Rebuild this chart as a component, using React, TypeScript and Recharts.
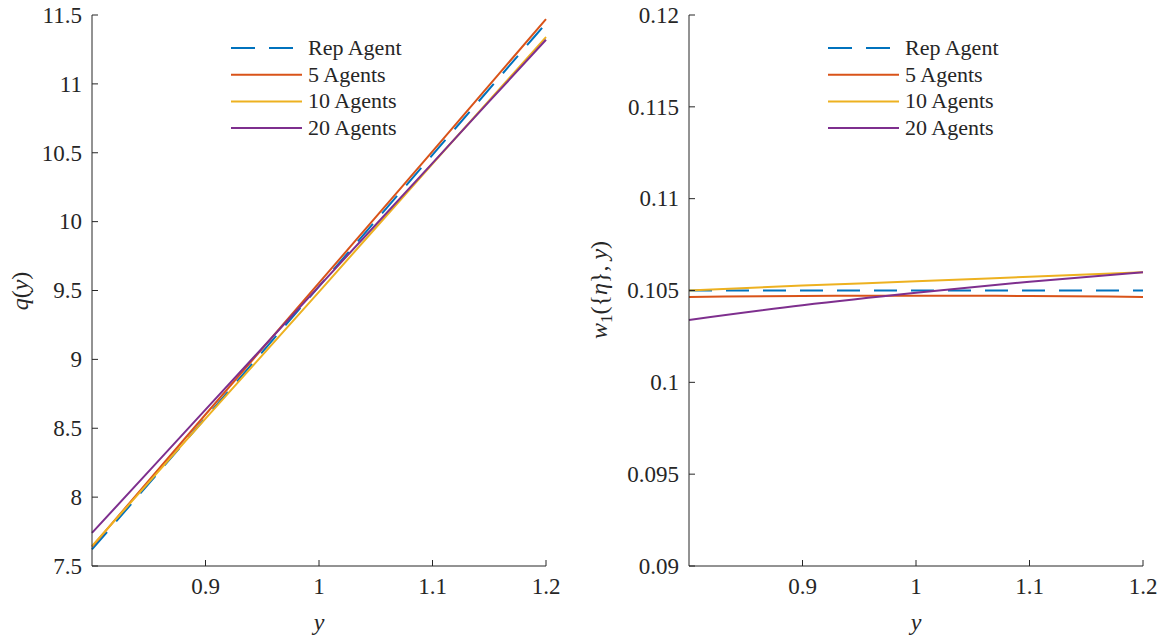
import { Line, LineChart, XAxis, YAxis } from "recharts";

// x values (y in the plots)
const xValues = [0.8, 0.9, 1.0, 1.1, 1.2];

const seriesNames = ["Rep Agent", "5 Agents", "10 Agents", "20 Agents"];
const seriesColors = ["#0072BD", "#D95319", "#EDB120", "#7E2F8E"];

// left panel: q(y)
const qRep = [7.62, 8.575, 9.53, 10.485, 11.44];
const q5 = [7.64, 8.6, 9.555, 10.51, 11.47];
const q10 = [7.645, 8.57, 9.49, 10.42, 11.34];
const q20 = [7.74, 8.635, 9.53, 10.425, 11.32];

// right panel: w_1({eta}, y)
const wRep = [0.105, 0.105, 0.105, 0.105, 0.105];
const w5 = [0.10465, 0.1047, 0.10472, 0.1047, 0.10465];
const w10 = [0.105, 0.10527, 0.1055, 0.10575, 0.106];
const w20 = [0.1034, 0.1042, 0.10488, 0.10548, 0.106];

const xTicks = [0.9, 1, 1.1, 1.2];
const qTicks = [7.5, 8, 8.5, 9, 9.5, 10, 10.5, 11, 11.5];
const wTicks = [0.09, 0.095, 0.1, 0.105, 0.11, 0.115, 0.12];

const FONT = "'Liberation Serif', 'DejaVu Serif', serif";
const INK = "#262626";

const buildRows = (cols: number[][]) =>
  xValues.map((x, i) => ({ x, s0: cols[0][i], s1: cols[1][i], s2: cols[2][i], s3: cols[3][i] }));

const qRows = buildRows([qRep, q5, q10, q20]);
const wRows = buildRows([wRep, w5, w10, w20]);

const textCss = { fontFamily: FONT };

// force the serif face on every svg text in the page
const fontRule = `svg text, svg tspan { font-family: ${FONT} !important; }`;

const BottomTick = (props: any) => (
  <text x={props.x} y={props.y} dy="0.71em" textAnchor="middle" fontSize={23} fill={INK}>
    {String(props.payload.value)}
  </text>
);

const LeftTick = (props: any) => (
  <text x={props.x} y={props.y} dy="0.34em" textAnchor="end" fontSize={23} fill={INK}>
    {String(props.payload.value)}
  </text>
);

// legend drawn as an overlay so it doesn't eat chart space
const LegendBox = ({ left }: { left: number }) => (
  <svg width={220} height={115} style={{ position: "absolute", left, top: 30 }}>
    {seriesNames.map((name, i) => {
      const cy = 18 + i * 26.7;
      return (
        <g key={name}>
          <line
            x1={11}
            x2={82}
            y1={cy}
            y2={cy}
            stroke={seriesColors[i]}
            strokeWidth={2}
            strokeDasharray={i === 0 ? "24 14" : undefined}
          />
          <text x={88} y={cy + 7} fontSize={22} fill={INK} style={textCss}>
            {name}
          </text>
        </g>
      );
    })}
  </svg>
);

type PanelProps = {
  rows: typeof qRows;
  domain: [number, number];
  yTicks: number[];
  width: number;
  axisWidth: number;
  marginRight: number;
  yLabel: React.ReactNode;
};

const Panel = ({ rows, domain, yTicks, width, axisWidth, marginRight, yLabel }: PanelProps) => (
  <LineChart
    width={width}
    height={636}
    data={rows}
    style={textCss}
    margin={{ top: 15, right: marginRight, bottom: 0, left: 0 }}
  >
    <XAxis
      dataKey="x"
      type="number"
      domain={[0.8, 1.2]}
      ticks={xTicks}
      height={70}
      tickSize={-6}
      tickMargin={18}
      tick={BottomTick}
      stroke={INK}
      label={{
        content: () => (
          <text x={axisWidth + 227} y={630} textAnchor="middle" fontSize={24} fontStyle="italic" fill={INK}>
            y
          </text>
        ),
      }}
    />
    <XAxis
      xAxisId="top"
      dataKey="x"
      type="number"
      orientation="top"
      domain={[0.8, 1.2]}
      ticks={xTicks}
      height={0}
      tickSize={-6}
      stroke={INK}
      tickFormatter={() => ""}
    />
    <YAxis
      type="number"
      domain={domain}
      ticks={yTicks}
      width={axisWidth}
      tickSize={-6}
      tickMargin={16}
      tick={LeftTick}
      stroke={INK}
      interval={0}
      label={{ content: () => yLabel }}
    />
    <YAxis
      yAxisId="right"
      type="number"
      orientation="right"
      domain={domain}
      ticks={yTicks}
      width={0}
      tickSize={-6}
      stroke={INK}
      interval={0}
      tickFormatter={() => ""}
    />
    {seriesNames.map((name, i) => (
      <Line
        key={name}
        dataKey={`s${i}`}
        name={name}
        type="monotone"
        stroke={seriesColors[i]}
        strokeWidth={2}
        strokeDasharray={i === 0 ? "23 14" : undefined}
        dot={false}
        activeDot={false}
        isAnimationActive={false}
      />
    ))}
  </LineChart>
);

const qLabel = (
  <text x={28} y={291} transform="rotate(-90 28 291)" textAnchor="middle" fontSize={24} fill={INK}>
    <tspan fontStyle="italic">q</tspan>
    <tspan>(</tspan>
    <tspan fontStyle="italic">y</tspan>
    <tspan>)</tspan>
  </text>
);

const wLabel = (
  <text x={27} y={290} transform="rotate(-90 27 290)" textAnchor="middle" fontSize={24} fill={INK}>
    <tspan fontStyle="italic">w</tspan>
    <tspan fontSize={17} dy={5}>1</tspan>
    <tspan dy={-5}>({"{"}</tspan>
    <tspan fontStyle="italic">η</tspan>
    <tspan>{"}"}, </tspan>
    <tspan fontStyle="italic">y</tspan>
    <tspan>)</tspan>
  </text>
);

export default function App() {
  return (
    <div
      style={{ position: "absolute", left: 0, top: 0, width: 1165, height: 636, background: "#fff", fontFamily: FONT }}
    >
      <style>{fontRule}</style>
      <div style={{ position: "absolute", left: 0, top: 0, width: 580, height: 636 }}>
        <Panel
          rows={qRows}
          domain={[7.5, 11.5]}
          yTicks={qTicks}
          width={580}
          axisWidth={92}
          marginRight={34}
          yLabel={qLabel}
        />
        <LegendBox left={220} />
      </div>
      <div style={{ position: "absolute", left: 580, top: 0, width: 585, height: 636 }}>
        <Panel
          rows={wRows}
          domain={[0.09, 0.12]}
          yTicks={wTicks}
          width={585}
          axisWidth={109}
          marginRight={22}
          yLabel={wLabel}
        />
        <LegendBox left={237} />
      </div>
    </div>
  );
}
